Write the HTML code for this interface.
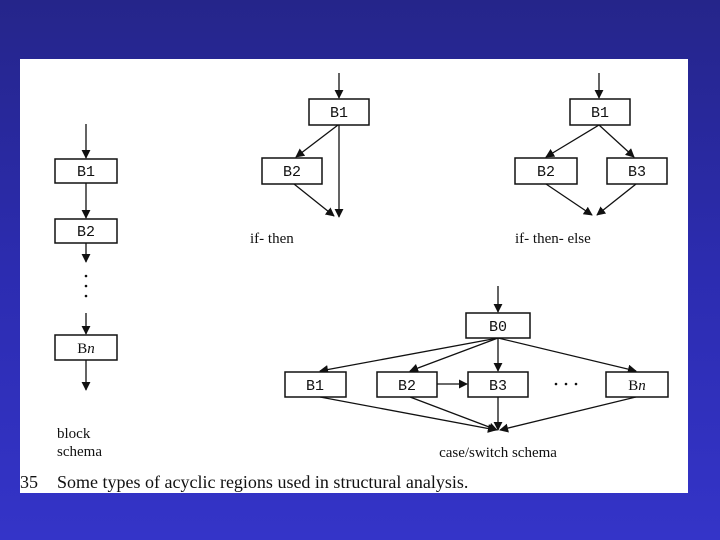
<!DOCTYPE html>
<html><head><style>
html,body{margin:0;padding:0}
body{width:720px;height:540px;background:linear-gradient(#25258a,#2c2cb0 50%,#3434c8);position:relative;overflow:hidden}
svg{position:absolute;left:0;top:0}
</style></head><body>
<svg width="720" height="540" viewBox="0 0 720 540">
<defs><marker id="a" viewBox="0 0 10 10" refX="9" refY="5" markerWidth="9" markerHeight="9" markerUnits="userSpaceOnUse" orient="auto"><path d="M0,0 L10,5 L0,10 z" fill="#111"/></marker></defs>
<rect x="20" y="59" width="668" height="434" fill="#fff"/>
<g stroke="#111" stroke-width="1.3" fill="none" marker-end="url(#a)">
<line x1="86" y1="124" x2="86" y2="158"/><line x1="86" y1="183" x2="86" y2="218"/><line x1="86" y1="243" x2="86" y2="262"/><line x1="86" y1="313" x2="86" y2="334"/><line x1="86" y1="360" x2="86" y2="390"/>
<line x1="339" y1="73" x2="339" y2="98"/><line x1="338" y1="125" x2="296" y2="157"/><line x1="339" y1="125" x2="339" y2="217"/><line x1="294" y1="184" x2="334" y2="216"/>
<line x1="599" y1="73" x2="599" y2="98"/><line x1="599" y1="125" x2="546" y2="157"/><line x1="599" y1="125" x2="634" y2="157"/><line x1="546" y1="184" x2="592" y2="215"/><line x1="636" y1="184" x2="597" y2="215"/>
<line x1="498" y1="286" x2="498" y2="312"/><line x1="498" y1="338" x2="320" y2="371"/><line x1="498" y1="338" x2="410" y2="371"/><line x1="498" y1="338" x2="498" y2="371"/><line x1="498" y1="338" x2="636" y2="371"/><line x1="437" y1="384" x2="467" y2="384"/>
<line x1="320" y1="397" x2="496" y2="430"/><line x1="410" y1="397" x2="497" y2="430"/><line x1="498" y1="397" x2="498" y2="430"/><line x1="636" y1="397" x2="500" y2="430"/>
</g>
<g stroke="#111" stroke-width="1.5" fill="#fff">
<rect x="55" y="159" width="62" height="24"/><rect x="55" y="219" width="62" height="24"/><rect x="55" y="335" width="62" height="25"/>
<rect x="309" y="99" width="60" height="26"/><rect x="262" y="158" width="60" height="26"/>
<rect x="570" y="99" width="60" height="26"/><rect x="515" y="158" width="62" height="26"/><rect x="607" y="158" width="60" height="26"/>
<rect x="466" y="313" width="64" height="25"/><rect x="285" y="372" width="61" height="25"/><rect x="377" y="372" width="60" height="25"/><rect x="468" y="372" width="60" height="25"/><rect x="606" y="372" width="62" height="25"/>
</g>
<g fill="#111"><circle cx="86" cy="276" r="1.3"/><circle cx="86" cy="286" r="1.3"/><circle cx="86" cy="296" r="1.3"/><circle cx="556" cy="384" r="1.3"/><circle cx="566" cy="384" r="1.3"/><circle cx="576" cy="384" r="1.3"/></g>
<g font-family="Liberation Mono, monospace" font-size="15" fill="#111" text-anchor="middle">
<text x="86" y="176">B1</text><text x="86" y="236">B2</text>
<text x="339" y="117">B1</text><text x="292" y="176">B2</text>
<text x="600" y="117">B1</text><text x="546" y="176">B2</text><text x="637" y="176">B3</text>
<text x="498" y="331">B0</text><text x="315" y="390">B1</text><text x="407" y="390">B2</text><text x="498" y="390">B3</text>
</g>
<g font-family="Liberation Serif, serif" font-size="15" fill="#111">
<text x="86" y="353" text-anchor="middle">B<tspan font-style="italic">n</tspan></text>
<text x="637" y="390" text-anchor="middle">B<tspan font-style="italic">n</tspan></text>
<text x="250" y="243">if- then</text>
<text x="515" y="243">if- then- else</text>
<text x="57" y="438">block</text><text x="57" y="456">schema</text>
<text x="498" y="457" text-anchor="middle">case/switch schema</text>
<text x="20" y="488" font-size="18">35</text>
<text x="57" y="488" font-size="18">Some types of acyclic regions used in structural analysis.</text>
</g>
</svg>
</body></html>
